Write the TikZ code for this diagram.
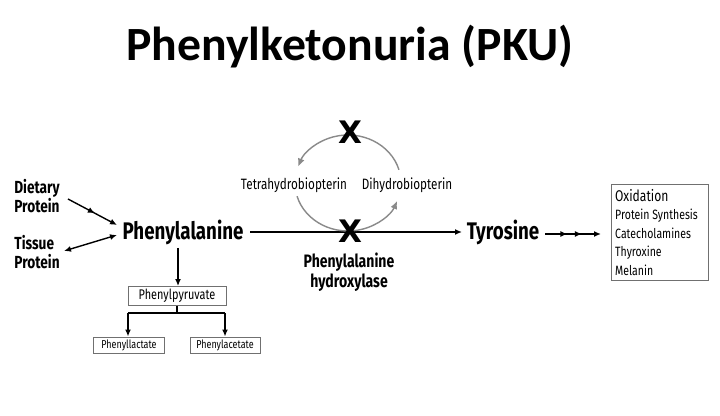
\documentclass[tikz,border=0pt]{standalone}
\usepackage{fontspec}
\setmainfont{Carlito}
\newfontfamily\cf[FakeStretch=0.78]{Fira Sans}
\newfontfamily\cfb[FakeStretch=0.78]{Fira Sans Bold}
\newfontfamily\xf{DejaVu Sans Bold}
\usetikzlibrary{arrows.meta,decorations.markings}
\definecolor{cyc}{HTML}{8A8A8A}
\definecolor{bx}{HTML}{707070}
\tikzset{
  lbl/.style={font=\cfb\fontsize{17.5}{19}\selectfont, align=left, inner sep=0pt},
  big/.style={font=\cfb\fontsize{24}{26}\selectfont, inner sep=0pt},
  small/.style={font=\cf\fontsize{15}{17}\selectfont, inner sep=0pt},
  xmark/.style={font=\xf\fontsize{31}{33}\selectfont, inner sep=0pt},
  boxa/.style={draw=bx, line width=0.9pt, font=\cf\fontsize{14}{16}\selectfont, minimum width=98pt, minimum height=19pt, inner sep=1pt},
  boxb/.style={draw=bx, line width=0.9pt, font=\cf\fontsize{11.5}{13}\selectfont, minimum width=71pt, minimum height=16pt, inner sep=1pt},
  arr/.style={line width=1.4pt, -{Latex[length=7pt,width=6pt]}},
  cycarr/.style={draw=cyc, line width=1.4pt, -{Latex[length=8pt,width=7pt]}},
  midtip/.style={decoration={markings, mark=at position #1 with {\arrow{Latex[length=7pt,width=6pt]}}}, postaction={decorate}},
}
\begin{document}
\begin{tikzpicture}[x=1pt,y=1pt]
\useasboundingbox (0,0) rectangle (720,415);
\fill[white] (0,0) rectangle (720,415);
% title
\node[font=\bfseries\fontsize{47.7}{52}\selectfont, inner sep=0pt] (title) at (350,368) {Phenylketonuria (PKU)};
% left labels
\node[lbl] (diet) at (37,219) {Dietary\\Protein};
\node[lbl] (tiss) at (37,163) {Tissue\\Protein};
\node[big] (phe) at (183,183) {Phenylalanine};
\node[big] (tyr) at (503,183) {Tyrosine};
\coordinate (d1) at (68,216);
\coordinate (d2) at (117,190);
\draw[arr, midtip=0.55] (d1) -- (d2);
\coordinate (t1) at (64,164);
\coordinate (t2) at (117,180);
\draw[line width=1.4pt, {Latex[length=7pt,width=6pt]}-{Latex[length=7pt,width=6pt]}] (t1) -- (t2);
% main reaction
\coordinate (m1) at (250,183);
\coordinate (m2) at (462,183);
\draw[arr] (m1) -- (m2);
% cycle
\coordinate (cc) at (348,232);
\draw[cycarr] (cc) ++(16:53pt and 48pt) arc[start angle=16, end angle=160, x radius=53, y radius=48];
\draw[cycarr] (cc) ++(196:53pt and 48pt) arc[start angle=196, end angle=338, x radius=53, y radius=48];
\node[small] (thb) at (294,230) {Tetrahydrobiopterin};
\node[small] (dhb) at (407,230) {Dihydrobiopterin};
\node[xmark] (x1) at (350,283) {X};
\node[xmark] (x2) at (350,184) {X};
\node[lbl, align=center, font=\cfb\fontsize{18}{19.5}\selectfont] (enz) at (349,143) {Phenylalanine\\hydroxylase};
% tyrosine products
\coordinate (y1) at (545,181);
\coordinate (y2) at (601,181);
\draw[arr, decoration={markings, mark=at position 0.4 with {\arrow{Latex[length=7pt,width=6pt]}}, mark=at position 0.66 with {\arrow{Latex[length=7pt,width=6pt]}}}, postaction={decorate}] (y1) -- (y2);
\node[draw=bx, line width=1pt, minimum width=97pt, minimum height=96pt, inner sep=0pt] (prod) at (659.5,182) {};
\node[anchor=north west, inner sep=0pt, align=left, font=\cf\fontsize{13.5}{18.5}\selectfont] (prodtxt) at (615,226)
  {{\fontsize{15.5}{18.5}\selectfont Oxidation}\\Protein Synthesis\\Catecholamines\\Thyroxine\\Melanin};
% phenylpyruvate branch
\node[boxa] (ppy) at (177,119) {Phenylpyruvate};
\node[boxb] (pla) at (129,70) {Phenyllactate};
\node[boxb, minimum width=70pt] (pac) at (225,70) {Phenylacetate};
\coordinate (p1) at (178,167);
\draw[arr] (p1) -- (ppy.north -| p1);
\coordinate (sp) at (177,102);
\draw[line width=1.4pt] (ppy.south) -- (sp);
\coordinate (sl) at (128,102);
\coordinate (sr) at (225,102);
\draw[line width=1.4pt] (sl) -- (sr);
\draw[arr] (sl) -- (pla.north -| sl);
\draw[arr] (sr) -- (pac.north -| sr);
\end{tikzpicture}
\end{document}
